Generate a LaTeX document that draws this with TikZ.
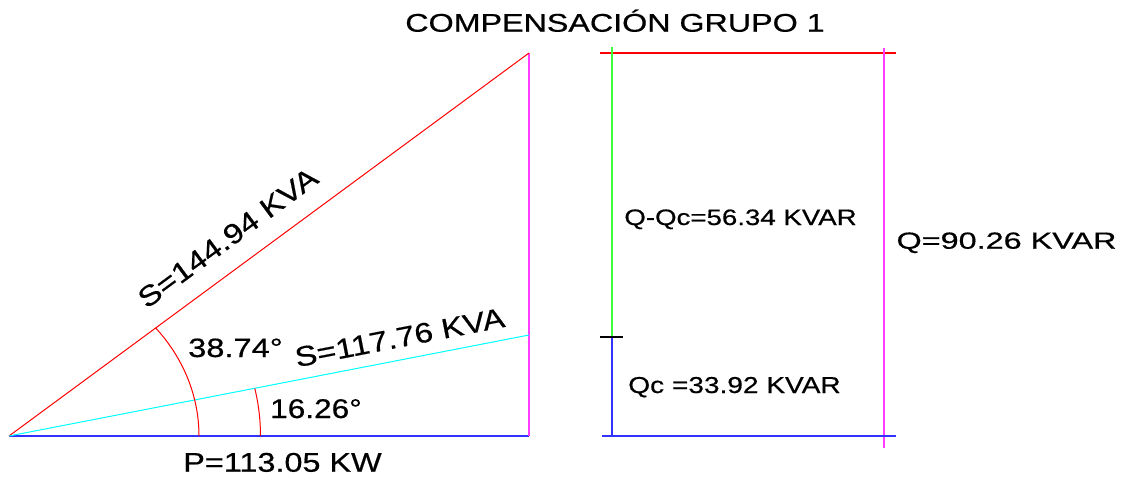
\documentclass[tikz,border=0pt]{standalone}
\usepackage{fontspec}
\setmainfont[FakeBold=0.5,BoldFont=*]{Liberation Sans}
\usepackage{graphicx}
\newcommand{\lbl}[3]{\fontsize{#1}{#1}\selectfont\bfseries\scalebox{#2}[1]{#3}}
\definecolor{cR}{RGB}{255,0,0}
\definecolor{cC}{RGB}{0,255,255}
\definecolor{cB}{RGB}{50,50,255}
\definecolor{cM}{RGB}{255,60,255}
\definecolor{cG}{RGB}{60,255,60}
\tikzset{
  txt/.style={inner sep=0pt, outer sep=0pt, anchor=base, text=black},
  thin line/.style={line width=1pt},
  thick line/.style={line width=1.6pt}
}
\begin{document}
\begin{tikzpicture}[x=1pt,y=1pt]
\useasboundingbox[fill=white] (0,0) rectangle (1132,-477);
% left triangle
\coordinate (O) at (9,-436);
\coordinate (A) at (529,-436);
\coordinate (B) at (529,-53);
\coordinate (C) at (529,-335);
\draw[cB, thick line] (O) -- (A);
\draw[cM, line width=1.3pt] (A) -- (B);
\draw[cR, thin line] (O) -- (B);
\draw[cC, thin line] (O) -- (C);
\draw[cR, thin line] ([xshift=190pt]O) arc[start angle=0, end angle=39.45, x radius=190pt, y radius=170pt];
\draw[cR, thin line] ([xshift=251.5pt]O) arc[start angle=0, end angle=12.2, x radius=251.5pt, y radius=225pt];
% right side
\coordinate (TL) at (600,-53);
\coordinate (TR) at (896,-53);
\coordinate (GT) at (612,-47);
\coordinate (MID) at (612,-337);
\coordinate (BOT) at (612,-436);
\coordinate (TK1) at (600,-337);
\coordinate (TK2) at (623,-337);
\coordinate (MT) at (884,-48);
\coordinate (MB) at (884,-448);
\coordinate (BL) at (602,-436);
\coordinate (BR) at (896,-436);
\draw[cR, thick line] (TL) -- (TR);
\draw[cG, thick line] (GT) -- (MID);
\draw[cB, thick line] (MID) -- (BOT);
\draw[black, thick line] (TK1) -- (TK2);
\draw[cM, thick line] (MT) -- (MB);
\draw[cB, thick line] (BL) -- (BR);
% texts
\node[txt] (title) at (615,-31.7) {\lbl{25.6}{1.26}{COMPENSACIÓN GRUPO 1}};
\node[txt] (P) at (282.5,-471.7) {\lbl{27}{1.2}{P=113.05 KW}};
\node[txt, rotate=36.37] (S1) at (233.5,-245.5) {\lbl{28}{1.18}{S=144.94 KVA}};
\node[txt, rotate=11] (S2) at (401.5,-347) {\lbl{28}{1.18}{S=117.76 KVA}};
\node[txt] (a1) at (235.5,-357) {\lbl{26.5}{1.23}{38.74°}};
\node[txt] (a2) at (316,-418) {\lbl{27}{1.17}{16.26°}};
\node[txt] (Q) at (1006.5,-248.7) {\lbl{23.3}{1.39}{Q=90.26 KVAR}};
\node[txt] (QQc) at (740.5,-225) {\lbl{22.3}{1.24}{Q-Qc=56.34 KVAR}};
\node[txt] (Qc) at (734.5,-393) {\lbl{23}{1.22}{Qc =33.92 KVAR}};
\end{tikzpicture}
\end{document}
